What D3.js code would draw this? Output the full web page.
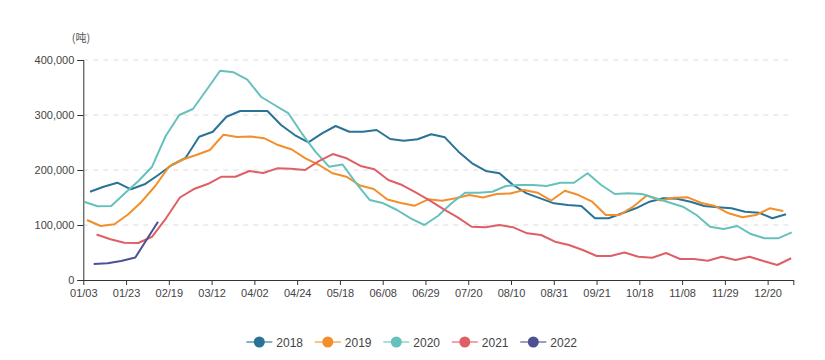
<!DOCTYPE html>
<html>
<head>
<meta charset="utf-8">
<script src="https://cdn.jsdelivr.net/npm/d3@7"></script>
<style>
  body { margin: 0; background: #fff; }
  svg { display: block; font-family: "Liberation Sans", Arial, "Noto Sans CJK SC", sans-serif; }
</style>
</head>
<body>
<svg id="chart" width="825" height="360"></svg>
<script>
// ---------------- DATA ----------------
const xTickLabels = ["01/03","01/23","02/19","03/12","04/02","04/24","05/18","06/08","06/29",
                     "07/20","08/10","08/31","09/21","10/18","11/08","11/29","12/20"];
const yTickValues = [0, 100000, 200000, 300000, 400000];
const unitLabel = "(吨)";
const seriesNames = ["2018", "2019", "2020", "2021", "2022"];

const values2018 = [160500,169600,176900,164900,174000,190900,209100,221800,260500,269600,296900,307200,
  307200,307200,281800,263600,250300,266700,280000,269600,269600,272700,256300,253200,255800,264900,
  259400,233300,212200,198200,194000,172700,157600,148500,139400,136400,134500,112200,112200,121300,
  130400,142400,148500,147800,142400,134500,132200,130400,124200,122400,112200,119400];
const values2019 = [109100,98200,101300,119100,142400,170900,206000,219100,227300,236300,264200,260000,
  260900,257600,245400,237300,221300,209100,194000,187800,171800,165400,146300,140000,135100,146700,
  144200,148500,154500,150000,156300,157300,163600,158700,144500,162300,154500,142400,118200,118200,
  133300,153600,144500,149600,150300,140000,134500,121300,114000,118200,130400,125400];
const values2020 = [142400,134000,134500,157600,180000,206000,261800,300000,310900,345400,380500,377600,
  364500,333200,318200,303600,266700,233300,206000,210000,175800,145400,139400,127300,112200,100000,
  116400,139400,158700,158700,160500,170900,172700,172700,170900,176900,176900,194000,172700,156300,
  157600,156300,148500,140900,133300,118200,96900,92700,98200,83600,75800,75800,86700];
const values2021 = [82700,74000,67800,67300,78700,112200,150000,165400,174500,187800,187800,198200,
  194500,203000,202300,200000,216300,229000,221300,207300,201300,181800,172700,158700,144200,128500,
  114000,96900,95800,100000,95800,84900,81800,69600,63600,54500,43600,43600,50000,42400,40500,49100,
  38200,38200,35100,42400,36400,42200,34500,27300,39500];
const values2022 = [29000,30500,34500,41000,106000];

// position of first / last point of each series, in weeks from the first axis label
const firstWeek = [0.47, 0.26, 0.05, 0.93, 0.73];
const lastWeek  = [49.29, 49.10, 49.69, 49.65, 5.24];
const weeks2022 = [0.73, 1.70, 2.65, 3.65, 5.24];
const axisWeeks = 49.8;   // length of the x axis in weeks
const labelEvery = 3;     // one label every 3 weeks

const seriesValues = [values2018, values2019, values2020, values2021, values2022];
const colors = ["#2a7397", "#f28f2c", "#66c1bd", "#df5f66", "#4b5193"];

// ---------------- LAYOUT ----------------
const svg = d3.select("#chart");
const plotLeft = 83.3, plotRight = 793.3, plotTop = 60, plotBottom = 280;

const x = d3.scaleLinear().domain([0, axisWeeks]).range([plotLeft, plotRight]);
const y = d3.scaleLinear().domain([0, 400000]).range([plotBottom, plotTop]);

// grid lines
svg.append("g").selectAll("line")
  .data(yTickValues.filter(v => v > 0))
  .join("line")
  .attr("x1", plotLeft).attr("x2", plotRight)
  .attr("y1", d => y(d)).attr("y2", d => y(d))
  .attr("stroke", "#dcdcdc").attr("stroke-width", 1)
  .attr("stroke-dasharray", "5,5");

// y axis
const yAxis = d3.axisLeft(y).tickValues(yTickValues)
  .tickFormat(d3.format(",")).tickSize(6).tickPadding(3);
const gy = svg.append("g").attr("transform", `translate(${plotLeft},0)`).call(yAxis);
gy.select(".domain").attr("stroke", "#333");
gy.selectAll(".tick line").attr("stroke", "#333");
gy.selectAll("text").attr("fill", "#444").attr("font-size", 11)
  .attr("font-family", "Liberation Sans, Arial, sans-serif");

// x axis
const tickWeeks = xTickLabels.map((_, i) => i * labelEvery);
const xAxis = d3.axisBottom(x).tickValues(tickWeeks.concat([axisWeeks]))
  .tickFormat((d, i) => xTickLabels[i] || "").tickSize(5).tickSizeOuter(0).tickPadding(4);
const gx = svg.append("g").attr("transform", `translate(0,${plotBottom})`).call(xAxis);
gx.select(".domain").attr("stroke", "#333");
gx.selectAll(".tick line").attr("stroke", "#333");
gx.selectAll("text").attr("fill", "#444").attr("font-size", 11)
  .attr("font-family", "Liberation Sans, Arial, sans-serif");

// unit label
svg.append("text").attr("x", 81).attr("y", 42).attr("text-anchor", "middle")
  .attr("font-size", 11).attr("fill", "#555")
  .attr("font-family", "Noto Sans CJK SC, sans-serif")
  .text(unitLabel);

// lines
const line = d3.line().x(d => x(d[0])).y(d => y(d[1]));
seriesValues.forEach((vals, s) => {
  let weeks;
  if (s === 4) weeks = weeks2022;
  else {
    const n = vals.length;
    const step = (lastWeek[s] - firstWeek[s]) / (n - 1);
    weeks = vals.map((_, i) => firstWeek[s] + i * step);
  }
  const pts = vals.map((v, i) => [weeks[i], v]);
  svg.append("path").datum(pts)
    .attr("d", line)
    .attr("fill", "none")
    .attr("stroke", colors[s])
    .attr("stroke-width", 2)
    .attr("stroke-linejoin", "round");
});

// legend
const legendX0 = 259.3, legendStep = 68.5, legendY = 342;
const lg = svg.append("g").selectAll("g").data(seriesNames).join("g")
  .attr("transform", (d, i) => `translate(${legendX0 + i * legendStep},${legendY})`);
lg.append("line").attr("x1", -13).attr("x2", 13).attr("y1", 0).attr("y2", 0)
  .attr("stroke", (d, i) => colors[i]).attr("stroke-width", 2).attr("stroke-opacity", 0.55);
lg.append("circle").attr("r", 5.5).attr("fill", (d, i) => colors[i]);
lg.append("text").attr("x", 17).attr("y", 4.5).attr("font-size", 12).attr("fill", "#444")
  .text(d => d);
</script>
</body>
</html>
